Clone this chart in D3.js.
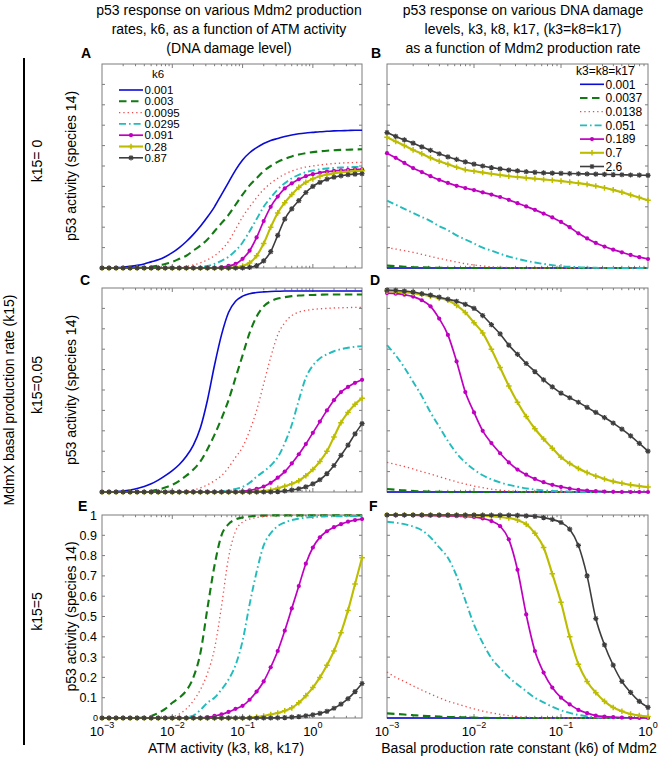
<!DOCTYPE html>
<html><head><meta charset="utf-8">
<script src="https://cdn.jsdelivr.net/npm/d3@7/dist/d3.min.js"></script>
<style>
html,body{margin:0;padding:0;background:#fff;}
svg{display:block;}
text{font-family:"Liberation Sans",Arial,Helvetica,sans-serif;fill:#000;}
</style></head><body>
<svg id="chart" width="662" height="760"></svg>
<script>
// ---------- data ----------
// x grids: ATM activity (k3=k8=k17) and k6, log-spaced every 0.1 decade
const atmX = d3.range(38).map(i => Math.pow(10, -3 + i / 10));
const k6X  = d3.range(31).map(i => Math.pow(10, -3 + i / 10));

const k6Labels = ["0.001","0.003","0.0095","0.0295","0.091","0.28","0.87"];
const k3Labels = ["0.001","0.0037","0.0138","0.051","0.189","0.7","2.6"];
const yTickValues = [0,0.1,0.2,0.3,0.4,0.5,0.6,0.7,0.8,0.9,1];
const xTickExps = [-3,-2,-1,0];

// Panel A (k15=0): p53 vs ATM activity, one series per k6
const A1=[0,0,0.002,0.004,0.008,0.013,0.02,0.03,0.04,0.055,0.075,0.1,0.13,0.165,0.205,0.25,0.3,0.36,0.42,0.48,0.53,0.565,0.59,0.61,0.625,0.635,0.645,0.652,0.658,0.662,0.665,0.668,0.67,0.672,0.673,0.674,0.675,0.675];
const A2=[0,0,0,0,0,0,0.003,0.007,0.012,0.02,0.03,0.045,0.06,0.085,0.11,0.14,0.18,0.22,0.26,0.31,0.36,0.405,0.44,0.475,0.5,0.52,0.535,0.547,0.556,0.563,0.568,0.572,0.575,0.577,0.579,0.58,0.581,0.582];
const A3=[0,0,0,0,0,0,0,0,0,0,0,0.003,0.008,0.015,0.025,0.04,0.06,0.09,0.13,0.19,0.25,0.3,0.345,0.385,0.415,0.44,0.46,0.475,0.487,0.495,0.5,0.505,0.509,0.512,0.514,0.516,0.517,0.518];
const A4=[0,0,0,0,0,0,0,0,0,0,0,0,0,0,0.004,0.01,0.02,0.035,0.055,0.085,0.125,0.18,0.24,0.3,0.345,0.385,0.415,0.44,0.457,0.47,0.478,0.484,0.488,0.491,0.493,0.494,0.495,0.496];
const A5=[0,0,0,0,0,0,0,0,0,0,0,0,0,0,0,0,0,0.004,0.01,0.02,0.045,0.085,0.15,0.23,0.3,0.35,0.39,0.415,0.435,0.45,0.46,0.467,0.472,0.476,0.479,0.481,0.483,0.484];
const A6=[0,0,0,0,0,0,0,0,0,0,0,0,0,0,0,0,0,0,0,0.003,0.01,0.025,0.06,0.12,0.2,0.27,0.32,0.36,0.395,0.42,0.437,0.45,0.458,0.464,0.469,0.472,0.475,0.477];
const A7=[0,0,0,0,0,0,0,0,0,0,0,0,0,0,0,0,0,0,0,0,0,0.003,0.012,0.035,0.08,0.16,0.24,0.29,0.33,0.37,0.4,0.42,0.435,0.445,0.452,0.457,0.46,0.462];

// Panel C (k15=0.05)
const C1=[0,0,0.002,0.005,0.01,0.017,0.027,0.04,0.058,0.08,0.105,0.135,0.175,0.23,0.315,0.45,0.62,0.77,0.88,0.935,0.96,0.972,0.978,0.981,0.983,0.984,0.985,0.985,0.985,0.985,0.985,0.985,0.985,0.985,0.985,0.985,0.985,0.985];
const C2=[0,0,0,0,0,0,0,0.005,0.012,0.022,0.035,0.055,0.08,0.11,0.15,0.21,0.28,0.36,0.45,0.56,0.67,0.78,0.86,0.91,0.935,0.948,0.955,0.96,0.963,0.965,0.966,0.967,0.968,0.968,0.968,0.968,0.968,0.968];
const C3=[0,0,0,0,0,0,0,0,0,0,0,0,0.003,0.01,0.02,0.035,0.055,0.08,0.12,0.17,0.22,0.3,0.4,0.53,0.66,0.77,0.83,0.865,0.882,0.89,0.895,0.898,0.9,0.902,0.903,0.904,0.905,0.905];
const C4=[0,0,0,0,0,0,0,0,0,0,0,0,0,0,0,0,0,0.003,0.008,0.015,0.025,0.045,0.075,0.1,0.13,0.17,0.24,0.33,0.45,0.56,0.62,0.655,0.675,0.69,0.7,0.707,0.712,0.715];
const C5=[0,0,0,0,0,0,0,0,0,0,0,0,0,0,0,0,0,0,0,0,0.003,0.008,0.015,0.027,0.045,0.07,0.1,0.14,0.185,0.235,0.29,0.345,0.4,0.45,0.49,0.515,0.535,0.55];
const C6=[0,0,0,0,0,0,0,0,0,0,0,0,0,0,0,0,0,0,0,0,0,0,0.002,0.005,0.01,0.018,0.028,0.04,0.055,0.08,0.11,0.15,0.2,0.27,0.34,0.39,0.43,0.46];
const C7=[0,0,0,0,0,0,0,0,0,0,0,0,0,0,0,0,0,0,0,0,0,0,0,0,0,0.002,0.005,0.01,0.016,0.025,0.04,0.06,0.09,0.13,0.18,0.23,0.285,0.335];

// Panel E (k15=5); the k6=0.001 curve is not visible in this panel
const E1=[];
const E2=[0,0,0,0,0,0,0.003,0.01,0.025,0.045,0.075,0.1,0.135,0.2,0.32,0.54,0.75,0.9,0.955,0.978,0.988,0.993,0.996,0.997,0.998,0.998,0.998,0.998,0.998,0.998,0.998,0.998,0.998,0.998,0.998,0.998,0.998,0.998];
const E3=[0,0,0,0,0,0,0,0,0,0,0.005,0.02,0.045,0.085,0.14,0.22,0.34,0.55,0.79,0.92,0.965,0.98,0.988,0.992,0.995,0.997,0.998,0.998,0.998,0.998,0.998,0.998,0.998,0.998,0.998,0.998,0.998,0.998];
const E4=[0,0,0,0,0,0,0,0,0,0,0,0,0.004,0.012,0.04,0.075,0.1,0.14,0.19,0.26,0.38,0.56,0.72,0.85,0.91,0.945,0.963,0.975,0.982,0.987,0.99,0.992,0.993,0.994,0.994,0.995,0.995,0.995];
const E5=[0,0,0,0,0,0,0,0,0,0,0,0,0,0,0,0.004,0.01,0.018,0.03,0.045,0.06,0.09,0.13,0.18,0.25,0.33,0.43,0.54,0.65,0.76,0.84,0.89,0.92,0.94,0.955,0.967,0.975,0.98];
const E6=[0,0,0,0,0,0,0,0,0,0,0,0,0,0,0,0,0,0,0,0,0,0.002,0.005,0.01,0.017,0.025,0.036,0.05,0.075,0.11,0.15,0.2,0.26,0.33,0.42,0.53,0.66,0.79];
const E7=[0,0,0,0,0,0,0,0,0,0,0,0,0,0,0,0,0,0,0,0,0,0,0,0,0,0.001,0.002,0.004,0.007,0.011,0.016,0.023,0.033,0.048,0.068,0.095,0.13,0.17];

// Panel B (k15=0): p53 vs k6, one series per k3=k8=k17
const B1=[0,0,0,0,0,0,0,0,0,0,0,0,0,0,0,0,0,0,0,0,0,0,0,0,0,0,0,0,0,0,0];
const B2=[0.012,0.009,0.006,0.004,0.003,0.002,0.001,0,0,0,0,0,0,0,0,0,0,0,0,0,0,0,0,0,0,0,0,0,0,0,0];
const B3=[0.1,0.093,0.085,0.077,0.067,0.057,0.047,0.038,0.029,0.021,0.015,0.01,0.006,0.004,0.002,0.001,0,0,0,0,0,0,0,0,0,0,0,0,0,0,0];
const B4=[0.33,0.31,0.29,0.27,0.25,0.23,0.205,0.185,0.16,0.14,0.12,0.1,0.085,0.07,0.056,0.045,0.035,0.027,0.02,0.014,0.009,0.006,0.004,0.002,0.001,0,0,0,0,0,0];
const B5=[0.563,0.54,0.515,0.49,0.47,0.45,0.432,0.417,0.403,0.392,0.382,0.371,0.36,0.348,0.334,0.318,0.302,0.285,0.267,0.248,0.226,0.2,0.17,0.145,0.123,0.105,0.09,0.077,0.064,0.053,0.044];
const B6=[0.641,0.62,0.6,0.579,0.56,0.54,0.523,0.508,0.494,0.482,0.474,0.468,0.462,0.456,0.45,0.446,0.442,0.438,0.434,0.43,0.426,0.421,0.416,0.41,0.402,0.393,0.383,0.371,0.358,0.345,0.332];
const B7=[0.664,0.645,0.628,0.612,0.594,0.577,0.56,0.545,0.532,0.52,0.509,0.5,0.492,0.486,0.48,0.476,0.472,0.469,0.466,0.465,0.464,0.463,0.462,0.461,0.46,0.459,0.458,0.457,0.456,0.455,0.454];

// Panel D (k15=0.05)
const D1=[0,0,0,0,0,0,0,0,0,0,0,0,0,0,0,0,0,0,0,0,0,0,0,0,0,0,0,0,0,0,0];
const D2=[0.015,0.011,0.008,0.005,0.003,0.002,0.001,0,0,0,0,0,0,0,0,0,0,0,0,0,0,0,0,0,0,0,0,0,0,0,0];
const D3=[0.145,0.135,0.125,0.113,0.1,0.088,0.075,0.062,0.05,0.039,0.029,0.021,0.014,0.009,0.005,0.003,0.001,0,0,0,0,0,0,0,0,0,0,0,0,0,0];
const D4=[0.72,0.67,0.61,0.54,0.47,0.39,0.32,0.25,0.19,0.145,0.11,0.082,0.062,0.047,0.035,0.026,0.018,0.012,0.008,0.005,0.003,0.002,0.001,0,0,0,0,0,0,0,0];
const D5=[0.975,0.972,0.967,0.958,0.94,0.91,0.85,0.77,0.64,0.49,0.39,0.3,0.24,0.19,0.145,0.11,0.085,0.064,0.048,0.035,0.025,0.017,0.011,0.007,0.004,0.002,0.001,0,0,0,0];
const D6=[0.984,0.982,0.979,0.975,0.968,0.96,0.95,0.94,0.915,0.88,0.83,0.78,0.7,0.61,0.52,0.44,0.37,0.31,0.26,0.215,0.17,0.14,0.115,0.095,0.078,0.064,0.052,0.043,0.035,0.029,0.024];
const D7=[0.99,0.988,0.985,0.98,0.972,0.965,0.955,0.945,0.935,0.92,0.9,0.865,0.82,0.775,0.72,0.675,0.63,0.59,0.55,0.515,0.485,0.462,0.44,0.415,0.39,0.365,0.338,0.308,0.275,0.238,0.2];

// Panel F (k15=5)
const F1=[0,0,0,0,0,0,0,0,0,0,0,0,0,0,0,0,0,0,0,0,0,0,0,0,0,0,0,0,0,0,0];
const F2=[0.023,0.02,0.017,0.014,0.011,0.009,0.007,0.005,0.004,0.003,0.002,0.001,0,0,0,0,0,0,0,0,0,0,0,0,0,0,0,0,0,0,0];
const F3=[0.227,0.2,0.18,0.158,0.138,0.118,0.1,0.083,0.07,0.057,0.045,0.034,0.025,0.018,0.012,0.007,0.004,0.002,0.001,0,0,0,0,0,0,0,0,0,0,0,0];
const F4=[0.967,0.962,0.955,0.943,0.925,0.89,0.84,0.79,0.7,0.58,0.46,0.37,0.295,0.245,0.2,0.165,0.132,0.1,0.077,0.055,0.038,0.025,0.015,0.009,0.004,0.002,0,0,0,0,0];
const F5=[1,1,0.999,0.999,0.998,0.997,0.996,0.995,0.994,0.992,0.99,0.983,0.97,0.945,0.88,0.73,0.51,0.33,0.224,0.15,0.1,0.067,0.04,0.024,0.012,0.007,0.004,0.002,0.001,0,0];
const F6=[1,1,1,1,1,0.999,0.999,0.999,0.999,0.998,0.998,0.997,0.994,0.99,0.985,0.975,0.955,0.91,0.84,0.71,0.57,0.4,0.265,0.18,0.125,0.082,0.052,0.033,0.02,0.012,0.007];
const F7=[1,1,1,1,1,1,1,1,1,1,1,0.999,0.999,0.999,0.999,0.998,0.996,0.993,0.987,0.978,0.963,0.93,0.85,0.7,0.49,0.36,0.26,0.18,0.126,0.082,0.052];

// ---------- styles ----------
const styles = [
  {color:"#0b0bd6", w:1.6, dash:null, mk:null},
  {color:"#127a12", w:2.1, dash:"7.5,4.5", mk:null},
  {color:"#ef4a4a", w:1.3, dash:"1.3,3", mk:null},
  {color:"#22bcbc", w:1.9, dash:"7,3,1.6,3", mk:null},
  {color:"#c000c0", w:1.7, dash:null, mk:"dot"},
  {color:"#bdbd00", w:2.1, dash:null, mk:"plus"},
  {color:"#3d3d3d", w:1.6, dash:null, mk:"star"}
];
const frameColor = "#7d7d7d";

const svg = d3.select("#chart");

function drawMarker(g, type, x, y, color) {
  if (type === "dot") {
    g.append("circle").attr("cx", x).attr("cy", y).attr("r", 2.1).attr("fill", color);
  } else if (type === "plus") {
    const s = 2.8;
    g.append("path").attr("d", `M${x-s},${y}H${x+s}M${x},${y-s}V${y+s}`)
      .attr("stroke", color).attr("stroke-width", 1.5).attr("fill", "none");
  } else if (type === "star") {
    const s = 2.6, d = 1.9;
    g.append("path").attr("d", `M${x-s},${y}H${x+s}M${x},${y-s}V${y+s}M${x-d},${y-d}L${x+d},${y+d}M${x-d},${y+d}L${x+d},${y-d}`)
      .attr("stroke", color).attr("stroke-width", 1.2).attr("fill", "none");
  }
}

function drawSeries(g, xs, ys, grid, vals, st) {
  if (!vals.length) return;
  const pts = vals.map((v, i) => [grid[i], v]);
  const line = d3.line().x(d => xs(d[0])).y(d => ys(d[1])).curve(d3.curveMonotoneX);
  const p = g.append("path").attr("d", line(pts)).attr("fill", "none")
    .attr("stroke", st.color).attr("stroke-width", st.w)
    .attr("stroke-linejoin", "round");
  if (st.dash) p.attr("stroke-dasharray", st.dash);
  if (st.mk) {
    const mg = g.append("g");
    pts.forEach(d => drawMarker(mg, st.mk, xs(d[0]), ys(d[1]), st.color));
  }
}

function drawPanel(p) {
  const xs = d3.scaleLog().domain(p.domain).range([p.x0, p.x1]);
  const ys = d3.scaleLinear().domain([0, 1]).range([p.y1, p.y0]);
  const g = svg.append("g");
  g.append("rect").attr("x", p.x0).attr("y", p.y0).attr("width", p.x1 - p.x0).attr("height", p.y1 - p.y0)
    .attr("fill", "none").attr("stroke", frameColor).attr("stroke-width", 1);
  yTickValues.filter(t => t > 0 && t < 1).forEach(t => {
    const y = ys(t);
    g.append("line").attr("x1", p.x0).attr("x2", p.x0 + 3).attr("y1", y).attr("y2", y).attr("stroke", frameColor);
    g.append("line").attr("x1", p.x1).attr("x2", p.x1 - 3).attr("y1", y).attr("y2", y).attr("stroke", frameColor);
  });
  xs.ticks().forEach(t => {
    const x = xs(t);
    if (x <= p.x0 + 0.5 || x >= p.x1 - 0.5) return;
    const major = Math.abs(Math.log10(t) - Math.round(Math.log10(t))) < 1e-9;
    const len = major ? 4 : 2.2;
    g.append("line").attr("x1", x).attr("x2", x).attr("y1", p.y0).attr("y2", p.y0 + len).attr("stroke", frameColor);
    g.append("line").attr("x1", x).attr("x2", x).attr("y1", p.y1).attr("y2", p.y1 - len).attr("stroke", frameColor);
  });
  p.series.forEach((vals, i) => drawSeries(g, xs, ys, p.grid, vals, styles[i]));
  svg.append("text").attr("x", p.lx).attr("y", p.ly).attr("font-size", 14).attr("font-weight", "bold").text(p.id);
  if (p.xLabels) {
    xTickExps.forEach(e => {
      const x = xs(Math.pow(10, e));
      const t = svg.append("text").attr("x", x).attr("y", 736).attr("font-size", 13).attr("text-anchor", "middle");
      t.append("tspan").text("10");
      t.append("tspan").attr("dy", -8).attr("font-size", 9).text(String(e).replace("-", "\u2212"));
    });
  }
  if (p.yLabels) {
    yTickValues.forEach(v => {
      if (v === 0) {
        svg.append("text").attr("x", 98).attr("y", ys(0) + 3).attr("font-size", 9).attr("text-anchor", "end").text("0");
      } else {
        svg.append("text").attr("x", 97).attr("y", ys(v) + 4.5).attr("font-size", 12.5).attr("text-anchor", "end").text(String(v));
      }
    });
  }
}

const L0 = 102, L1 = 362, R0 = 387, R1 = 648;
const rows = [[64, 268], [288, 492], [515, 718]];
const atmDomain = [1e-3, 5], k6Domain = [1e-3, 1];

const panels = [
  {id:"A", x0:L0, x1:L1, y0:rows[0][0], y1:rows[0][1], domain:atmDomain, grid:atmX, series:[A1,A2,A3,A4,A5,A6,A7], lx:81, ly:58},
  {id:"B", x0:R0, x1:R1, y0:rows[0][0], y1:rows[0][1], domain:k6Domain, grid:k6X, series:[B1,B2,B3,B4,B5,B6,B7], lx:371, ly:58},
  {id:"C", x0:L0, x1:L1, y0:rows[1][0], y1:rows[1][1], domain:atmDomain, grid:atmX, series:[C1,C2,C3,C4,C5,C6,C7], lx:80, ly:285},
  {id:"D", x0:R0, x1:R1, y0:rows[1][0], y1:rows[1][1], domain:k6Domain, grid:k6X, series:[D1,D2,D3,D4,D5,D6,D7], lx:370, ly:285},
  {id:"E", x0:L0, x1:L1, y0:rows[2][0], y1:rows[2][1], domain:atmDomain, grid:atmX, series:[E1,E2,E3,E4,E5,E6,E7], lx:78, ly:511, xLabels:true, yLabels:true},
  {id:"F", x0:R0, x1:R1, y0:rows[2][0], y1:rows[2][1], domain:k6Domain, grid:k6X, series:[F1,F2,F3,F4,F5,F6,F7], lx:369, ly:511, xLabels:true}
];
panels.forEach(drawPanel);

// ---------- legends ----------
function legend(x0, x1, tx, titleX, titleY, title, labels, rowY, fs) {
  const g = svg.append("g");
  g.append("text").attr("x", titleX).attr("y", titleY).attr("font-size", fs).text(title);
  labels.forEach((lab, i) => {
    const st = styles[i], y = rowY[i];
    const l = g.append("line").attr("x1", x0).attr("x2", x1).attr("y1", y).attr("y2", y)
      .attr("stroke", st.color).attr("stroke-width", st.w);
    if (st.dash) l.attr("stroke-dasharray", st.dash);
    if (st.mk) drawMarker(g, st.mk, (x0 + x1) / 2, y, st.color);
    g.append("text").attr("x", tx).attr("y", y + fs * 0.36).attr("font-size", fs).text(lab);
  });
}
legend(119, 143, 144.5, 152, 78, "k6", k6Labels, [90, 101.3, 112.6, 123.9, 135.2, 146.5, 157.8], 11.5);
legend(580, 604, 605.5, 576, 75, "k3=k8=k17", k3Labels, [84.3, 98, 111.7, 125.4, 139.1, 152.8, 166.5], 12);

// ---------- titles and labels ----------
const titleL = ["p53 response on various Mdm2 production", "rates, k6, as a function of ATM activity", "(DNA damage level)"];
const titleR = ["p53 response on various DNA damage", "levels, k3, k8, k17, (k3=k8=k17)", "as a function of Mdm2 production rate"];
titleL.forEach((s, i) => svg.append("text").attr("x", 229).attr("y", 15 + i * 19).attr("font-size", 14).attr("text-anchor", "middle").text(s));
titleR.forEach((s, i) => svg.append("text").attr("x", 523).attr("y", 15 + i * 19).attr("font-size", 14).attr("text-anchor", "middle").text(s));

svg.append("text").attr("x", 226).attr("y", 753).attr("font-size", 14).attr("text-anchor", "middle").text("ATM activity (k3, k8, k17)");
svg.append("text").attr("x", 519).attr("y", 753).attr("font-size", 14).attr("text-anchor", "middle").text("Basal production rate constant (k6) of Mdm2");

function vText(x, y, s, fs) {
  svg.append("text").attr("transform", `translate(${x},${y}) rotate(-90)`).attr("font-size", fs)
    .attr("text-anchor", "middle").text(s);
}
rows.forEach(r => vText(76, (r[0] + r[1]) / 2, "p53 activity (species 14)", 14));
const rowLabels = ["k15= 0", "k15=0.05", "k15=5"];
rowLabels.forEach((s, i) => vText(42, (rows[i][0] + rows[i][1]) / 2 - 5, s, 14));
vText(14, 400, "MdmX basal production rate (k15)", 14);
svg.append("line").attr("x1", 24).attr("x2", 24).attr("y1", 58).attr("y2", 745).attr("stroke", "#000").attr("stroke-width", 2);
</script>
</body></html>
